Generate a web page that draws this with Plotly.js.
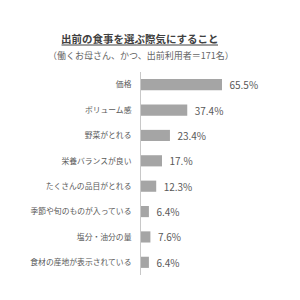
<!DOCTYPE html>
<html>
<head>
<meta charset="utf-8">
<script src="https://cdn.plot.ly/plotly-3.0.1.min.js"></script>
<style>html,body{margin:0;padding:0;background:#fff;}#chart{width:300px;height:300px;}</style>
</head>
<body>
<div id="chart"></div>
<script>
const categories = ["価格", "ボリューム感", "野菜がとれる", "栄養バランスが良い", "たくさんの品目がとれる", "季節や旬のものが入っている", "塩分・油分の量", "食材の産地が表示されている"];
const values = [65.5, 37.4, 23.4, 17.0, 12.3, 6.4, 7.6, 6.4];
const valueLabels = ["65.5%", "37.4%", "23.4%", "17.%", "12.3%", "6.4%", "7.6%", "6.4%"];
const titleText = "出前の食事を選ぶ際気にすること";
const subtitleText = "（働くお母さん、かつ、出前利用者＝171名）";

const FONT = "'Noto Sans CJK JP', 'Noto Sans', sans-serif";

const trace = {
  type: "bar",
  orientation: "h",
  x: values,
  y: categories,
  text: valueLabels,
  texttemplate: "  %{text}",
  textposition: "outside",
  constraintext: "none",
  cliponaxis: false,
  textfont: {family: FONT, size: 10, color: "#595959"},
  marker: {color: "#a5a5a5", line: {width: 0}},
  hoverinfo: "skip"
};

const layout = {
  width: 300, height: 300,
  margin: {l: 141, r: 9, t: 72, b: 25},
  paper_bgcolor: "#fff",
  plot_bgcolor: "#fff",
  showlegend: false,
  bargap: 0.56,
  font: {family: FONT},
  xaxis: {range: [0, 121.3], visible: false, fixedrange: true},
  yaxis: {
    type: "category",
    autorange: "reversed",
    showline: true, linecolor: "#c8c8c8", linewidth: 1,
    showgrid: false, zeroline: false,
    ticks: "", ticklabelstandoff: 7,
    tickfont: {family: FONT, size: 7.8, color: "#595959"},
    fixedrange: true
  },
  annotations: [
    {text: "<b>" + titleText + "</b>", showarrow: false, font: {family: FONT, size: 10.5, color: "#404040"}},
    {text: subtitleText, showarrow: false, font: {family: FONT, size: 9, color: "#666"}}
  ],
  shapes: []
};
function px(xp, yp) {
  const pw = 300 - 141 - 9, ph = 300 - 72 - 25;
  return {x: (xp - 141) / pw, y: (300 - 25 - yp) / ph};
}
const t1 = px(140, 38.5), t2 = px(141, 55);
Object.assign(layout.annotations[0], {xref: "paper", yref: "paper", x: t1.x, y: t1.y, xanchor: "center", yanchor: "middle"});
Object.assign(layout.annotations[1], {xref: "paper", yref: "paper", x: t2.x, y: t2.y, xanchor: "center", yanchor: "middle"});
const u0 = px(61.5, 45), u1 = px(218, 45);
layout.shapes.push({type: "line", xref: "paper", yref: "paper", x0: u0.x, x1: u1.x, y0: u0.y, y1: u0.y, line: {color: "#404040", width: 1}});

Plotly.newPlot("chart", [trace], layout, {staticPlot: true, displayModeBar: false});
</script>
</body>
</html>
